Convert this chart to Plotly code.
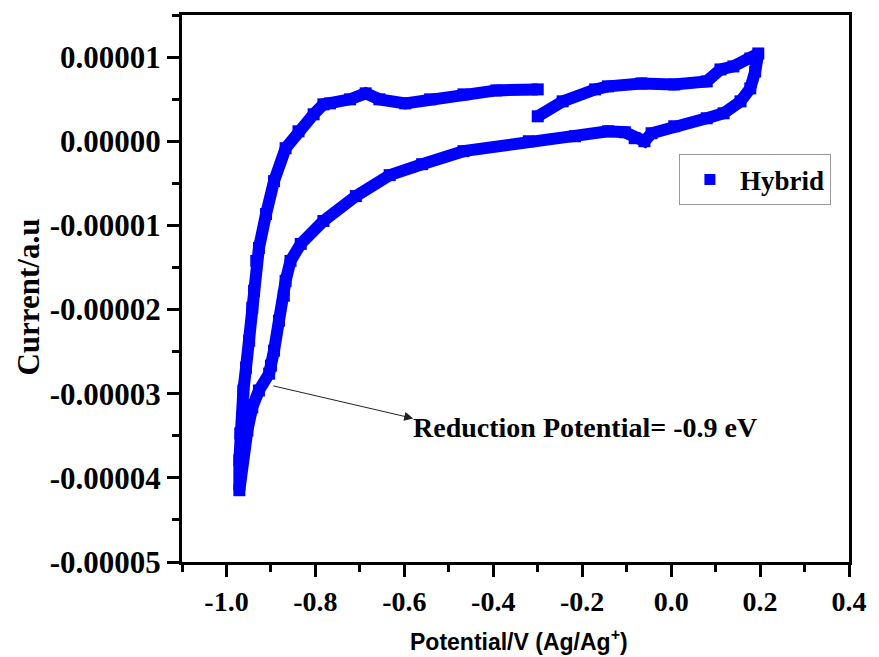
import plotly.graph_objects as go

# Cyclic voltammogram of "Hybrid"
potential = [
    -0.300, -0.244, -0.171, -0.142, -0.067, 0.007, 0.080, 0.111, 0.140, 0.178, 0.196,
    0.189, 0.178, 0.156, 0.118, 0.080, 0.007, -0.044, -0.060, -0.082, -0.104, -0.142,
    -0.216, -0.320, -0.467, -0.560, -0.633, -0.709, -0.782, -0.833, -0.856, -0.867,
    -0.871, -0.882, -0.893, -0.900, -0.904, -0.927, -0.942, -0.953, -0.964, -0.971,
    -0.971, -0.969, -0.964, -0.962, -0.956, -0.949, -0.942, -0.938, -0.933, -0.927,
    -0.911, -0.893, -0.867, -0.838, -0.804, -0.782, -0.767, -0.722, -0.687, -0.656,
    -0.598, -0.542, -0.467, -0.393, -0.300,
]
current_e5 = [
    0.296, 0.474, 0.616, 0.652, 0.687, 0.675, 0.711, 0.853, 0.889, 0.983, 1.043,
    0.829, 0.628, 0.474, 0.332, 0.273, 0.178, 0.095, 0.000, 0.036, 0.107, 0.118,
    0.059, 0.000, -0.118, -0.273, -0.403, -0.652, -0.948, -1.220, -1.422, -1.659,
    -1.836, -2.133, -2.488, -2.666, -2.761, -2.962, -3.163, -3.436, -3.756, -4.147,
    -3.791, -3.472, -3.282, -2.962, -2.690, -2.370, -1.979, -1.777, -1.422, -1.268,
    -0.865, -0.474, -0.083, 0.118, 0.320, 0.438, 0.450, 0.498, 0.569, 0.498,
    0.450, 0.498, 0.557, 0.604, 0.616,
]
current = [v * 1e-5 for v in current_e5]

series_name = "Hybrid"

x_tickvals = [-1.0, -0.8, -0.6, -0.4, -0.2, 0.0, 0.2, 0.4]
x_ticktext = ["-1.0", "-0.8", "-0.6", "-0.4", "-0.2", "0.0", "0.2", "0.4"]
y_tickvals = [1e-5, 0.0, -1e-5, -2e-5, -3e-5, -4e-5, -5e-5]
y_ticktext = ["0.00001", "0.00000", "-0.00001", "-0.00002", "-0.00003", "-0.00004", "-0.00005"]

BLUE = "#0000ff"
SERIF = "Liberation Serif"
SANS = "Liberation Sans"

fig = go.Figure()
fig.add_trace(go.Scatter(
    x=potential, y=current, mode="lines+markers",
    line=dict(color=BLUE, width=12),
    marker=dict(symbol="square", size=12, color=BLUE),
    showlegend=False, hoverinfo="skip",
))
# legend entry (marker only)
fig.add_trace(go.Scatter(
    x=[None], y=[None], mode="markers", name=series_name,
    marker=dict(symbol="square", size=11, color=BLUE),
))

axis_common = dict(
    showline=True, linecolor="black", linewidth=3, mirror=True,
    ticks="outside", ticklen=12, tickwidth=3, tickcolor="black",
    showgrid=False, zeroline=False,
)

fig.update_xaxes(
    range=[-1.1, 0.4], tickvals=x_tickvals, ticktext=x_ticktext,
    tickfont=dict(family=SERIF, size=28, color="black", weight="bold"),
    minor=dict(ticks="outside", ticklen=7, tickwidth=3, tickcolor="black", dtick=0.1, tick0=0),
    **axis_common,
)
fig.update_yaxes(
    range=[-5e-5, 1.5e-5], tickvals=y_tickvals, ticktext=y_ticktext,
    tickfont=dict(family=SERIF, size=31, color="black", weight="bold"),
    minor=dict(ticks="outside", ticklen=7, tickwidth=3, tickcolor="black", dtick=5e-6, tick0=0),
    **axis_common,
)

fig.update_layout(
    width=879, height=657,
    margin=dict(l=182, r=22, t=14, b=95),
    paper_bgcolor="white", plot_bgcolor="white",
    legend=dict(
        x=0.745, y=0.745, xanchor="left", yanchor="top",
        bordercolor="#999999", borderwidth=1, bgcolor="white",
        font=dict(family=SERIF, size=27, color="black", weight="bold"),
        itemwidth=50,
    ),
    annotations=[
        # y-axis title
        dict(text="<b>Current/a.u</b>", xref="paper", yref="paper",
             x=-0.2296, y=0.485, xanchor="center", yanchor="middle",
             textangle=-90, showarrow=False,
             font=dict(family=SERIF, size=31, color="black")),
        # x-axis title
        dict(text="<b>Potential/V (Ag/Ag<sup>+</sup>)</b>", xref="paper", yref="paper",
             x=0.505, y=-0.142, xanchor="center", yanchor="middle",
             showarrow=False,
             font=dict(family=SANS, size=23, color="black")),
        # arrow
        dict(text="", x=-0.58, y=-3.294e-5, ax=-0.898, ay=-2.903e-5,
             xref="x", yref="y", axref="x", ayref="y",
             showarrow=True, arrowhead=2, arrowsize=1.8, arrowwidth=1,
             arrowcolor="#222222", standoff=0, startstandoff=0),
        # label
        dict(text="<b>Reduction Potential= -0.9 eV</b>", x=-0.584, y=-3.40e-5,
             xref="x", yref="y", xanchor="left", yanchor="middle",
             showarrow=False,
             font=dict(family=SERIF, size=28, color="black")),
    ],
)

fig.write_html("out.html")
